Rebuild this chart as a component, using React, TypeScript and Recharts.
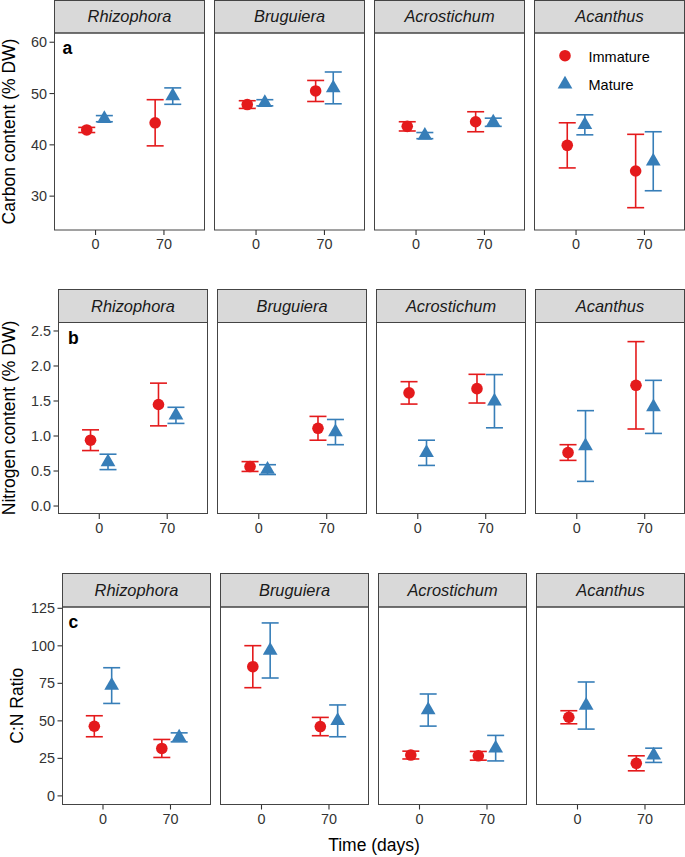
import React from "react";
import { ScatterChart, Scatter, XAxis, YAxis, ErrorBar } from "recharts";

// ---------- data ----------
const species = ["Rhizophora", "Bruguiera", "Acrostichum", "Acanthus"];
const days = [0, 70];
const groups = ["Immature", "Mature"];

// Carbon content (% DW): [species][day]
const carbonImmature = [[42.9, 44.3], [47.85, 50.5], [43.6, 44.5], [39.9, 34.9]];
const carbonImmatureSE = [[0.5, 4.5], [0.75, 2.05], [0.9, 1.95], [4.4, 7.15]];
const carbonMature = [[45.1, 49.5], [48.2, 51.1], [41.8, 44.4], [43.9, 36.8]];
const carbonMatureSE = [[0.6, 1.6], [0.6, 3.1], [0.6, 0.8], [1.95, 5.75]];

// Nitrogen content (% DW)
const nitrogenImmature = [[0.94, 1.45], [0.564, 1.11], [1.616, 1.676], [0.764, 1.724]];
const nitrogenImmatureSE = [[0.148, 0.305], [0.07, 0.17], [0.16, 0.205], [0.112, 0.624]];
const nitrogenMature = [[0.63, 1.295], [0.52, 1.056], [0.76, 1.497], [0.857, 1.416]];
const nitrogenMatureSE = [[0.11, 0.115], [0.07, 0.18], [0.18, 0.38], [0.505, 0.379]];

// C:N ratio
const cnImmature = [[46.4, 31.6], [86.1, 46.2], [27.2, 26.7], [52.4, 21.7]];
const cnImmatureSE = [[7.0, 6.0], [14.0, 6.1], [2.6, 2.9], [4.35, 5.0]];
const cnMature = [[73.5, 39.0], [96.9, 50.0], [57.2, 31.8], [60.2, 27.05]];
const cnMatureSE = [[11.9, 3.0], [18.35, 10.6], [10.7, 8.5], [15.7, 4.75]];

const carbonTicks = [30, 40, 50, 60];
const nitrogenTicks = [0, 0.5, 1, 1.5, 2, 2.5];
const cnTicks = [0, 25, 50, 75, 100, 125];
const dayTicks = [0, 70];

// ---------- style ----------
const RED = "#E41A1C";
const BLUE = "#377EB8";
const FONT = "'Liberation Sans', Arial, Helvetica, sans-serif";
const BORDER = "#444444";
const DODGE = 9;
const X_DOMAIN: [number, number] = [-42, 111.5];
const TOP_PAD = 12;
const PT_R = 5.8;
const TRI_R = 8.5;

type Row = {
  title: string;
  titleX: number;
  tag: string;
  tagX: number;
  tagY: number;
  stripTop: number;
  stripBottom: number;
  plotBottom: number;
  lefts: number[];
  panelW: number;
  domain: [number, number];
  ticks: number[];
  fmt: (v: number) => string;
  imm: number[][];
  immSE: number[][];
  mat: number[][];
  matSE: number[][];
};

const rows: Row[] = [
  {
    title: "Carbon content (% DW)", titleX: 15, tag: "a", tagX: 62.5, tagY: 53.5,
    stripTop: 0.5, stripBottom: 33, plotBottom: 230,
    lefts: [54.5, 214.5, 374.5, 534.5], panelW: 150,
    domain: [23.4, 61.8], ticks: carbonTicks, fmt: (v) => String(v),
    imm: carbonImmature, immSE: carbonImmatureSE, mat: carbonMature, matSE: carbonMatureSE,
  },
  {
    title: "Nitrogen content (% DW)", titleX: 15, tag: "b", tagX: 68, tagY: 343.5,
    stripTop: 289.5, stripBottom: 322.5, plotBottom: 513.5,
    lefts: [58.5, 217.5, 376.5, 535.5], panelW: 149,
    domain: [-0.114, 2.614], ticks: nitrogenTicks, fmt: (v) => v.toFixed(1),
    imm: nitrogenImmature, immSE: nitrogenImmatureSE, mat: nitrogenMature, matSE: nitrogenMatureSE,
  },
  {
    title: "C:N Ratio", titleX: 23, tag: "c", tagX: 68.5, tagY: 628,
    stripTop: 573.5, stripBottom: 607, plotBottom: 804.5,
    lefts: [62.5, 220.5, 378.5, 536.5], panelW: 148,
    domain: [-5.74, 125.87], ticks: cnTicks, fmt: (v) => String(v),
    imm: cnImmature, immSE: cnImmatureSE, mat: cnMature, matSE: cnMatureSE,
  },
];

const CircleShape = (p: any) => <circle cx={p.cx} cy={p.cy} r={PT_R} fill={RED} />;
const TriShape = (p: any) => {
  const r = TRI_R;
  const xc = r * 0.866;
  return (
    <path
      d={`M${p.cx},${p.cy - r} L${p.cx + xc},${p.cy + r / 2} L${p.cx - xc},${p.cy + r / 2} Z`}
      fill={BLUE}
    />
  );
};

function Panel({ row, si }: { row: Row; si: number }) {
  const first = si === 0;
  const left = row.lefts[si];
  const yW = first ? left : 0;
  const plotH = row.plotBottom - row.stripBottom;
  const immData = days.map((d, t) => ({ x: d - DODGE, y: row.imm[si][t], err: row.immSE[si][t] }));
  const matData = days.map((d, t) => ({ x: d + DODGE, y: row.mat[si][t], err: row.matSE[si][t] }));
  const tickStyle = { fill: "#333333", fontSize: 14.4, fontFamily: FONT };
  return (
    <div style={{ position: "absolute", left: first ? 0 : left, top: row.stripBottom - TOP_PAD }}>
      <ScatterChart
        width={row.panelW + yW}
        height={plotH + 30 + TOP_PAD}
        margin={{ top: TOP_PAD, right: 0, bottom: 0, left: 0 }}
      >
        <XAxis
          type="number"
          dataKey="x"
          domain={X_DOMAIN}
          allowDataOverflow
          ticks={dayTicks}
          interval={0}
          height={30}
          axisLine={false}
          tickSize={5}
          tickMargin={4}
          tickLine={{ stroke: "#333333", strokeWidth: 1.1 }}
          tick={tickStyle}
        />
        {first ? (
          <YAxis
            type="number"
            dataKey="y"
            domain={row.domain}
            allowDataOverflow
            ticks={row.ticks}
            interval={0}
            width={yW}
            axisLine={false}
            tickSize={5}
            tickMargin={2.5}
            tickLine={{ stroke: "#333333", strokeWidth: 1.1 }}
            tick={tickStyle}
            tickFormatter={row.fmt}
          />
        ) : (
          <YAxis type="number" dataKey="y" domain={row.domain} allowDataOverflow hide width={0} />
        )}
        <Scatter name={groups[0]} data={immData} shape={CircleShape} isAnimationActive={false}>
          <ErrorBar dataKey="err" direction="y" width={8.5} stroke={RED} strokeWidth={1.6} />
        </Scatter>
        <Scatter name={groups[1]} data={matData} shape={TriShape} isAnimationActive={false}>
          <ErrorBar dataKey="err" direction="y" width={8.5} stroke={BLUE} strokeWidth={1.6} />
        </Scatter>
      </ScatterChart>
    </div>
  );
}

export default function App() {
  return (
    <div
      style={{
        position: "absolute",
        left: 0,
        top: 0,
        width: 685,
        height: 857,
        background: "#ffffff",
        fontFamily: FONT,
        overflow: "hidden",
      }}
    >
      {rows.map((row, ri) =>
        species.map((s, si) => <Panel key={`${ri}-${si}`} row={row} si={si} />)
      )}
      <svg
        width={685}
        height={857}
        style={{ position: "absolute", left: 0, top: 0, pointerEvents: "none" }}
      >
        {rows.map((row, ri) => (
          <g key={`o${ri}`}>
            {species.map((s, si) => {
              const x = row.lefts[si];
              return (
                <g key={s}>
                  <rect
                    x={x}
                    y={row.stripTop}
                    width={row.panelW}
                    height={row.stripBottom - row.stripTop}
                    fill="#d9d9d9"
                    stroke={BORDER}
                    strokeWidth={1}
                  />
                  <rect
                    x={x}
                    y={row.stripBottom}
                    width={row.panelW}
                    height={row.plotBottom - row.stripBottom}
                    fill="none"
                    stroke={BORDER}
                    strokeWidth={1}
                  />
                  <text
                    x={x + row.panelW / 2}
                    y={(row.stripTop + row.stripBottom) / 2 + 5.5}
                    textAnchor="middle"
                    fontStyle="italic"
                    fontSize={16.4}
                    fill="#1a1a1a"
                    fontFamily={FONT}
                  >
                    {s}
                  </text>
                </g>
              );
            })}
            <text
              x={row.tagX}
              y={row.tagY}
              fontWeight="bold"
              fontSize={17.5}
              fill="#000"
              fontFamily={FONT}
            >
              {row.tag}
            </text>
            <text
              transform={`translate(${row.titleX},${(row.stripBottom + row.plotBottom) / 2}) rotate(-90)`}
              textAnchor="middle"
              fontSize={17.5}
              fill="#000"
              fontFamily={FONT}
            >
              {row.title}
            </text>
          </g>
        ))}
        {/* legend */}
        <circle cx={565} cy={55.7} r={PT_R} fill={RED} />
        <path
          d={`M565,${84.3 - TRI_R} L${565 + TRI_R * 0.866},${84.3 + TRI_R / 2} L${565 - TRI_R * 0.866},${84.3 + TRI_R / 2} Z`}
          fill={BLUE}
        />
        <text x={588.5} y={62.3} fontSize={14.5} fill="#000" fontFamily={FONT}>
          {groups[0]}
        </text>
        <text x={588.5} y={90} fontSize={14.5} fill="#000" fontFamily={FONT}>
          {groups[1]}
        </text>
        <text x={374} y={851} textAnchor="middle" fontSize={17.5} fill="#000" fontFamily={FONT}>
          Time (days)
        </text>
      </svg>
    </div>
  );
}
